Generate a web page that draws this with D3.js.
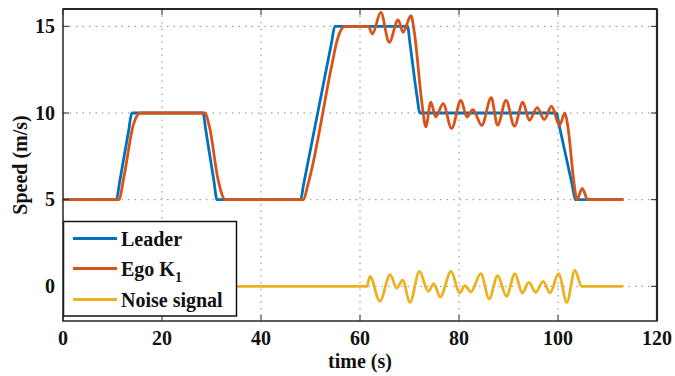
<!DOCTYPE html>
<html><head><meta charset="utf-8">
<script src="https://cdn.jsdelivr.net/npm/d3@7"></script>
<style>body{margin:0;background:#fff}svg{display:block}text{font-family:"Liberation Serif","DejaVu Serif",serif;font-weight:bold}</style>
</head><body><svg id="c" width="675" height="376"></svg>
<script>
const xTicks = [0, 20, 40, 60, 80, 100, 120];
const yTicks = [0, 5, 10, 15];
const seriesNames = ["Leader", "Ego K", "Noise signal"];

const leaderT = [0, 10.8, 11.4, 13.3, 13.9, 28.3, 28.8, 30.5, 31.1, 48.0, 48.6, 54.3, 54.9, 69.6, 70.1, 71.5, 72.1, 99.7, 100.2, 102.9, 103.5, 113.2];
const leaderV = [5, 5, 5.95, 9.05, 10, 10, 9.1, 6.05, 5, 5, 5.87, 14.13, 15, 15, 14.0, 11.0, 10, 10, 9.34, 5.8, 5, 5];

const egoT = [0, 11.3, 12.3, 14.2, 15.6, 28.6, 29.6, 31.3, 32.8, 48.5, 49.6, 54.4, 55.3, 56.0, 57.0, 61.7, 62.5, 64.2, 65.9, 67.7, 68.7, 70.3, 71.0, 72.5, 73.3,
  74.3, 75.3, 76.8, 78.5, 80.4, 81.6, 82.8, 84.6, 86.5, 87.8, 89.5, 91.2, 92.9, 94.2, 95.8, 97.2, 98.7, 100.3, 101.4, 102.0, 103.3, 103.8, 104.9, 106.0, 113.2];
const egoV = [5, 5, 6.3, 9.3, 10, 10, 9.2, 6.2, 5, 5, 6.0, 12.9, 14.1, 14.7, 15, 15, 14.56, 15.8, 14.08, 15.37, 14.66, 15.61, 14.6, 10.6, 9.2,
  10.63, 9.77, 10.54, 9.1, 10.73, 9.77, 10.2, 9.29, 10.88, 9.29, 10.73, 9.24, 10.63, 9.58, 10.31, 9.62, 10.39, 9.29, 10.0, 9.2, 5.8, 5.0, 5.65, 5.0, 5.0];

const noiseT = [0, 61.4, 62.0, 64.0, 66.1, 67.4, 68.6, 70.1, 72.0, 73.8, 74.9, 76.2, 78.4, 80.1, 81.2, 82.4, 84.4, 86.1, 87.8, 89.6, 91.3, 92.8, 94.1, 95.5, 97.0, 98.4, 100.1, 101.8, 103.4, 104.8, 113.2];
const noiseV = [0, 0, 0.57, -0.86, 0.67, -0.10, 0.35, -0.92, 0.86, -0.29, 0.16, -0.61, 0.86, -0.38, 0.04, -0.32, 0.73, -0.72, 0.61, -0.57, 0.73, -0.38, 0.23, -0.34, 0.29, -0.38, 0.73, -0.92, 0.92, 0, 0];

const colors = ["#0072BD", "#D95319", "#EDB120"];

const svg = d3.select("#c");
const L = 63, R = 657, T = 9, B = 321;
const x = d3.scaleLinear().domain([0, 120]).range([L, R]);
const y = d3.scaleLinear().domain([-2, 16]).range([B, T]);

// grid
const g = svg.append("g");
g.selectAll(".vg").data(xTicks.slice(1, -1)).enter().append("line")
  .attr("x1", d => x(d)).attr("x2", d => x(d)).attr("y1", T).attr("y2", B)
  .attr("stroke", "#8a8a8a").attr("stroke-width", 1).attr("stroke-dasharray", "1.5,5");
g.selectAll(".hg").data(yTicks).enter().append("line")
  .attr("y1", d => y(d)).attr("y2", d => y(d)).attr("x1", L).attr("x2", R)
  .attr("stroke", "#8a8a8a").attr("stroke-width", 1).attr("stroke-dasharray", "1.5,5");

const line = d3.line().x(d => x(d[0])).y(d => y(d[1])).curve(d3.curveMonotoneX);
const series = [
  leaderT.map((t, i) => [t, leaderV[i]]),
  egoT.map((t, i) => [t, egoV[i]]),
  noiseT.map((t, i) => [t, noiseV[i]])
];
series.forEach((s, i) => {
  svg.append("path").attr("d", line(s)).attr("fill", "none")
    .attr("stroke", colors[i]).attr("stroke-width", 2.8).attr("stroke-linejoin", "round");
});

// axes
const ax = svg.append("g");
const tickLen = 6;
xTicks.forEach(d => {
  ax.append("line").attr("x1", x(d)).attr("x2", x(d)).attr("y1", B).attr("y2", B - tickLen).attr("stroke", "#262626").attr("stroke-width", 1);
  ax.append("line").attr("x1", x(d)).attr("x2", x(d)).attr("y1", T).attr("y2", T + tickLen).attr("stroke", "#262626").attr("stroke-width", 1);
  ax.append("text").attr("x", x(d)).attr("y", 345).attr("text-anchor", "middle").attr("font-size", 20).attr("fill", "#111").text(d);
});
yTicks.forEach(d => {
  ax.append("line").attr("x1", L).attr("x2", L + tickLen).attr("y1", y(d)).attr("y2", y(d)).attr("stroke", "#262626").attr("stroke-width", 1);
  ax.append("line").attr("x1", R).attr("x2", R - tickLen).attr("y1", y(d)).attr("y2", y(d)).attr("stroke", "#262626").attr("stroke-width", 1);
  ax.append("text").attr("x", 55).attr("y", y(d) + 6.5).attr("text-anchor", "end").attr("font-size", 20).attr("fill", "#111").text(d);
});

// legend
const lg = svg.append("g");
lg.append("rect").attr("x", 63.5).attr("y", 221.5).attr("width", 173).attr("height", 94.5)
  .attr("fill", "#fff").attr("stroke", "#111").attr("stroke-width", 1.5);
const ly = [238.5, 268.5, 299.5];
seriesNames.forEach((n, i) => {
  lg.append("line").attr("x1", 73).attr("x2", 117).attr("y1", ly[i]).attr("y2", ly[i])
    .attr("stroke", colors[i]).attr("stroke-width", 2.8);
  const t = lg.append("text").attr("x", 121).attr("y", ly[i] + 7.4).attr("font-size", 20).attr("fill", "#111").text(n);
  if (i === 1) t.append("tspan").attr("dy", 6).attr("font-size", 14).text("1");
});

// box
svg.append("rect").attr("x", L).attr("y", T).attr("width", R - L).attr("height", B - T)
  .attr("fill", "none").attr("stroke", "#262626").attr("stroke-width", 1.5);
svg.append("line").attr("x1", R).attr("x2", R).attr("y1", T).attr("y2", B).attr("stroke", "#262626").attr("stroke-width", 2.2);
svg.append("line").attr("x1", L).attr("x2", R).attr("y1", T).attr("y2", T).attr("stroke", "#262626").attr("stroke-width", 2.2);

// labels
svg.append("text").attr("x", x(60)).attr("y", 368).attr("text-anchor", "middle").attr("font-size", 20).attr("fill", "#111").text("time (s)");
svg.append("text").attr("transform", "translate(27,165) rotate(-90)").attr("text-anchor", "middle").attr("font-size", 20).attr("fill", "#111").text("Speed (m/s)");
</script></body></html>
